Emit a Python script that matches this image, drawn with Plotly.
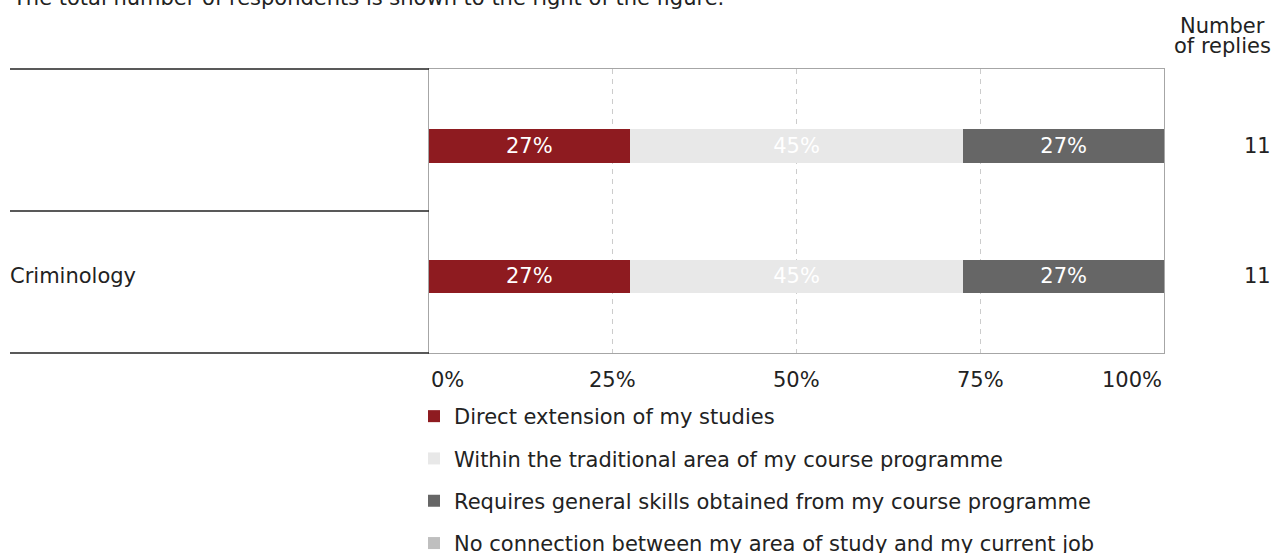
import plotly.graph_objects as go

# ---- data ----
categories = ["", "Criminology"]
series_names = [
    "Direct extension of my studies",
    "Within the traditional area of my course programme",
    "Requires general skills obtained from my course programme",
    "No connection between my area of study and my current job",
]
direct_extension = [27.3, 27.3]
traditional_area = [45.4, 45.4]
general_skills = [27.3, 27.3]
no_connection = [0, 0]
replies = [11, 11]
tick_values = [0, 25, 50, 75, 100]
tick_labels = ["0%", "25%", "50%", "75%", "100%"]
title_text = "The total number of respondents is shown to the right of the figure."
replies_header = ["Number", "of replies"]

colors = ["#8E1B20", "#E8E8E8", "#666666", "#BFBFBF"]
FONT = "Verdana, DejaVu Sans, sans-serif"
FS = 21
TXT = "#222"

W, H = 1276, 553
L, R, T, B = 429, 1164, 69, 353
pw, ph = R - L, B - T


def px_x(x):
    return (x - L) / pw


def px_y(y):
    return (B - y) / ph


fig = go.Figure()
ypos = list(range(len(categories)))
all_series = [direct_extension, traditional_area, general_skills, no_connection]
for i, (name, vals) in enumerate(zip(series_names, all_series)):
    fig.add_trace(go.Bar(
        x=vals, y=ypos, orientation="h", name=name,
        marker=dict(color=colors[i], line=dict(width=0)),
        width=0.254,
        text=[f"{round(v)}%" if v > 0 else "" for v in vals],
        textposition="inside", insidetextanchor="middle",
        textfont=dict(color="white", size=FS, family=FONT),
        constraintext="none",
        legendgroup=f"g{i}",
        hoverinfo="skip",
    ))

font = dict(size=FS, color=TXT, family=FONT)
annotations = []
# title (cut off at top)
annotations.append(dict(text=title_text, xref="paper", yref="paper",
                        x=px_x(10), y=px_y(-2), xanchor="left", yanchor="middle",
                        showarrow=False, font=font))
# replies header
annotations.append(dict(text=replies_header[0], xref="paper", yref="paper",
                        x=px_x(1222), y=px_y(26), xanchor="center", yanchor="middle",
                        showarrow=False, font=font))
annotations.append(dict(text=replies_header[1], xref="paper", yref="paper",
                        x=px_x(1222), y=px_y(46), xanchor="center", yanchor="middle",
                        showarrow=False, font=font))
# category labels and reply counts
for i, (cat, n) in enumerate(zip(categories, replies)):
    if cat:
        annotations.append(dict(text=cat, xref="paper", yref="y", x=px_x(8), y=i,
                                xanchor="left", yanchor="middle", showarrow=False,
                                font=font))
    annotations.append(dict(text=str(n), xref="paper", yref="y", x=px_x(1257), y=i,
                            xanchor="center", yanchor="middle", showarrow=False,
                            font=font))
# x tick labels
for j, (tv, tl) in enumerate(zip(tick_values, tick_labels)):
    anchor = "left" if j == 0 else ("right" if j == len(tick_values) - 1 else "center")
    annotations.append(dict(text=tl, xref="x", yref="paper", x=tv, y=px_y(380),
                            xanchor=anchor, yanchor="middle", showarrow=False,
                            font=font))

shapes = []
for yy in [0, 1]:
    shapes.append(dict(type="line", xref="paper", yref="paper", x0=px_x(10), x1=0,
                       y0=yy, y1=yy, line=dict(color="#222", width=1.5)))
for k in range(len(categories) - 1):
    shapes.append(dict(type="line", xref="paper", yref="y", x0=px_x(10), x1=0,
                       y0=k + 0.5, y1=k + 0.5, line=dict(color="#222", width=1.5)))

fig.update_layout(
    width=W, height=H,
    margin=dict(l=L, r=W - R, t=T, b=H - B, pad=0, autoexpand=False),
    barmode="stack",
    plot_bgcolor="white", paper_bgcolor="white",
    font=font,
    showlegend=True,
    legend=dict(x=px_x(414), y=px_y(396), xanchor="left", yanchor="top",
                orientation="v", tracegroupgap=12, traceorder="grouped",
                font=font, bgcolor="rgba(0,0,0,0)"),
    xaxis=dict(range=[0, 100], tickvals=tick_values, showticklabels=False,
               showgrid=True, gridcolor="#CCCCCC", griddash="5px,5px", gridwidth=1,
               zeroline=False, showline=True, mirror=True, linecolor="#A6A6A6",
               linewidth=1, ticks="", fixedrange=True),
    yaxis=dict(range=[len(categories) - 1 + 0.592, -0.592], showticklabels=False,
               showgrid=False, zeroline=False, showline=True, mirror=True,
               linecolor="#A6A6A6", linewidth=1, ticks="", fixedrange=True),
    annotations=annotations,
    shapes=shapes,
    hovermode=False,
)

fig.write_html("out.html", config={"displayModeBar": False},
               post_script="document.body.style.margin='0px';document.body.style.overflow='hidden';")
